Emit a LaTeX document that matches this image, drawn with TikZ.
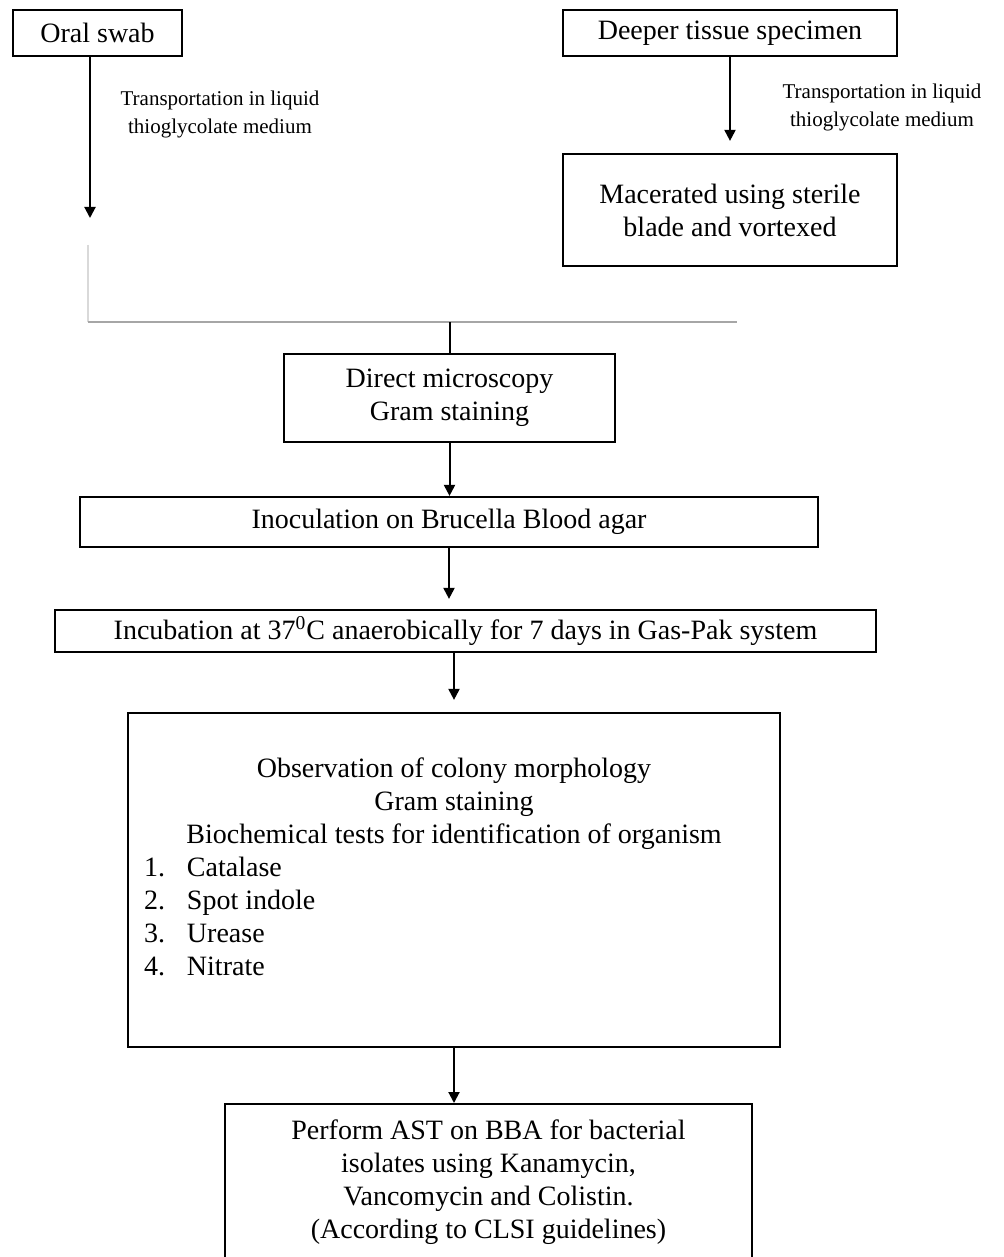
\documentclass[tikz,border=0pt]{standalone}
\usepackage{fontspec}
\setmainfont{Liberation Serif}
\usetikzlibrary{arrows.meta}
\tikzset{
  box/.style={draw, line width=1.1pt, inner sep=0pt, align=center,
    font=\fontsize{14}{16.5}\selectfont},
  note/.style={align=center, font=\fontsize{10.5}{14}\selectfont},
  flow/.style={line width=1pt, -{Triangle[width=5.5pt,length=5.5pt]}}
}
\begin{document}
\begin{tikzpicture}[x=0.5pt,y=-0.5pt]
      \clip (0,0) rectangle (1003,1257);
      \draw
        (97.5,33) node[box, minimum width=84.5pt, minimum height=23pt] (oral){Oral swab}
        (730,33) node[box, minimum width=167pt, minimum height=23pt] (deep){Deeper tissue specimen}
        (730,210) node[box, minimum width=167pt, minimum height=56pt] (macer){Macerated using sterile\\blade and vortexed}
        (449.5,398) node[box, minimum width=165.5pt, minimum height=44pt] (direct){Direct microscopy\\Gram staining}
        (449,522) node[box, minimum width=369pt, minimum height=25pt] (inoc){Inoculation on Brucella Blood agar}
        (465.5,631) node[box, minimum width=410.5pt, minimum height=21pt] (incub){Incubation at 37\textsuperscript{0}C anaerobically for 7 days in Gas-Pak system}
        (454,880) node[box, minimum width=326pt, minimum height=167pt] (obs){%
          \begin{minipage}{310pt}\centering
          Observation of colony morphology\\
          Gram staining\\
          Biochemical tests for identification of organism\par
          \raggedright
          \makebox[21.5pt][l]{1.}Catalase\\
          \makebox[21.5pt][l]{2.}Spot indole\\
          \makebox[21.5pt][l]{3.}Urease\\
          \makebox[21.5pt][l]{4.}Nitrate\par
          \vspace{13pt}
          \end{minipage}}
        (488.5,1103) node[box, anchor=north, minimum width=263.5pt, inner ysep=8pt] (ast){Perform AST on BBA for bacterial\\isolates using Kanamycin,\\Vancomycin and Colistin.\\(According to CLSI guidelines)}
        (220,114) node[note] (lnote){Transportation in liquid\\thioglycolate medium}
        (882,107) node[note] (rnote){Transportation in liquid\\thioglycolate medium};
      \coordinate (oralend) at (90,218);
      \coordinate (lstart) at (88,245);
      \coordinate (lcorner) at (88,322);
      \coordinate (rend) at (737,322);
      \coordinate (join) at (449.5,322);
      \begin{scope}[flow]
        \draw (oral.south -| oralend) to (oralend);
        \draw[shorten >=6pt] (deep) to (macer);
        \draw (direct.south) to (direct.south |- inoc.north);
        \draw[shorten >=5pt] (inoc.south) to (inoc.south |- incub.north);
        \draw[shorten >=6pt] (incub.south -| obs.north) to (obs.north);
        \draw (obs) to (obs.south |- ast.north);
      \end{scope}
      \draw[gray!30, line width=1pt] (lstart) -- (lcorner);
      \draw[gray!70, line width=1pt] (lcorner) -- (rend);
      \draw[line width=1pt] (join) -- (direct);
    \end{tikzpicture}
\end{document}
